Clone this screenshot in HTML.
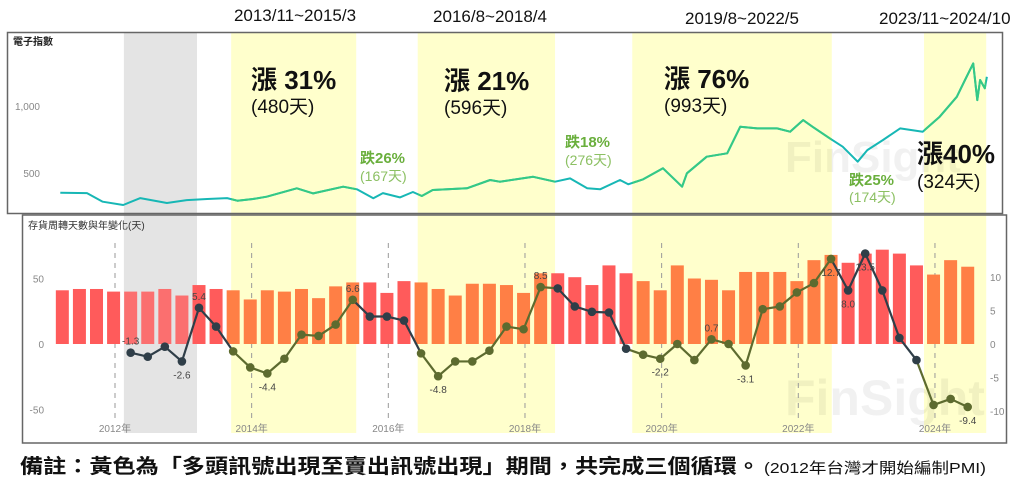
<!DOCTYPE html>
<html><head><meta charset="utf-8">
<style>
html,body{margin:0;padding:0;background:#fff;}
svg{display:block;font-family:"Liberation Sans","Noto Sans CJK TC",sans-serif;}
</style></head>
<body>
<svg id="chart" width="1023" height="478" viewBox="0 0 1023 478" xmlns="http://www.w3.org/2000/svg">
<g id="bands"></g>
<rect x="7.5" y="32.5" width="995" height="181" fill="none" stroke="#666" stroke-width="1.5"/>
<rect x="22.5" y="215" width="984" height="228" fill="none" stroke="#666" stroke-width="1.5"/>
<text x="785" y="172" font-size="44" font-weight="bold" fill="#000" opacity="0.05">FinSight</text>
<text x="785" y="415" font-size="50" font-weight="bold" fill="#000" opacity="0.05">FinSight</text>
<text x="13" y="45" font-size="10" font-weight="bold" fill="#222">電子指數</text>
<text x="40" y="110" font-size="10" fill="#888" text-anchor="end">1,000</text>
<text x="40" y="177" font-size="10" fill="#888" text-anchor="end">500</text>
<g id="indexLine"></g>
<text x="28" y="229" font-size="10" fill="#333">存貨周轉天數與年變化(天)</text>
<g id="grid"></g>
<g id="bars"></g>
<g id="yoy"></g>
<g id="axes"></g>
<g fill="#111">
<text x="295" y="21" font-size="17" text-anchor="middle">2013/11~2015/3</text>
<text x="490" y="22" font-size="17" text-anchor="middle">2016/8~2018/4</text>
<text x="742" y="24" font-size="17" text-anchor="middle">2019/8~2022/5</text>
<text x="879" y="24" font-size="17">2023/11~2024/10</text>
<text x="251" y="89" font-size="26" font-weight="bold">漲 31%</text>
<text x="251" y="113" font-size="19">(480天)</text>
<text x="444" y="90" font-size="26" font-weight="bold">漲 21%</text>
<text x="444" y="114" font-size="19">(596天)</text>
<text x="664" y="88" font-size="26" font-weight="bold">漲 76%</text>
<text x="664" y="112" font-size="19">(993天)</text>
<text x="917" y="163" font-size="26" font-weight="bold">漲40%</text>
<text x="917" y="188" font-size="19">(324天)</text>
<g fill="#6aaf3d">
<text x="360" y="163" font-size="15" font-weight="bold">跌26%</text>
<text x="360" y="181" font-size="14" fill="#8cc063">(167天)</text>
<text x="565" y="147" font-size="15" font-weight="bold">跌18%</text>
<text x="565" y="165" font-size="14" fill="#8cc063">(276天)</text>
<text x="849" y="185" font-size="15" font-weight="bold">跌25%</text>
<text x="849" y="202" font-size="14" fill="#8cc063">(174天)</text>
</g>
</g>
<text x="20" y="473" font-size="20" font-weight="bold" fill="#111" textLength="740" lengthAdjust="spacingAndGlyphs">備註：黃色為「多頭訊號出現至賣出訊號出現」期間，共完成三個循環。</text>
<text x="764" y="473" font-size="15" fill="#111" textLength="222" lengthAdjust="spacingAndGlyphs">(2012年台灣才開始編制PMI)</text>
</svg>
<script>
// ---- data ----
const bandStarts = [2012.13, 2013.70, 2016.43, 2019.57, 2023.84];
const bandEnds   = [2013.20, 2015.53, 2018.44, 2022.49, 2024.75];
const bandKinds  = ["gray", "yellow", "yellow", "yellow", "yellow"];
const indexDates = [2011.20,2011.59,2011.82,2012.12,2012.37,2012.76,2013.05,2013.35,2013.64,2013.79,2014.02,2014.22,2014.66,2014.90,2015.34,2015.54,2015.78,2015.92,2016.17,2016.36,2016.49,2016.65,2017.15,2017.49,2017.63,2018.12,2018.44,2018.66,2018.91,2019.10,2019.39,2019.51,2019.73,2020.02,2020.30,2020.37,2020.66,2020.96,2021.15,2021.40,2021.69,2021.88,2022.07,2022.21,2022.46,2022.65,2022.87,2023.01,2023.24,2023.49,2023.82,2024.07,2024.32,2024.44,2024.56,2024.62,2024.66,2024.73,2024.76];
const indexValues = [353,350,286,261,313,276,298,306,313,293,306,323,386,348,398,378,311,350,318,358,328,373,386,448,435,472,435,460,386,378,448,416,453,535,398,498,622,647,845,833,833,808,895,845,759,696,584,671,746,833,808,920,1069,1194,1318,1044,1194,1132,1218];
const quarterStart = 2011.20;
const inventoryDays = [41,42,42,40,40,40,42,37,45,42,41,34,41,40,42,35,44,47,47,39,48,47,42,37,46,46,45,39,54,54,51,45,60,54,48,41,60,50,49,41,55,55,55,48,64,68,62,69,72,69,60,53,64,59];
const yoyStartIndex = 4;
const yoyChange = [-1.3,-1.9,-0.4,-2.6,5.4,2.6,-1.1,-3.5,-4.4,-2.2,1.4,1.2,2.9,6.6,4.1,4.1,3.5,-1.4,-4.8,-2.6,-2.6,-1.0,2.6,2.2,8.5,8.3,5.6,4.8,4.7,-0.7,-1.6,-2.2,0.0,-2.4,0.7,0.0,-3.2,5.2,5.6,7.7,9.1,12.7,8.0,13.5,8.0,0.9,-2.4,-9.1,-8.2,-9.4];
const yoyLabelText = ["-1.3","-2.6","5.4","-4.4","6.6","-4.8","8.5","-2.2","0.7","-3.1","12.7","8.0","13.5","-9.4"];
const yoyLabelAt   = [4,7,8,12,17,22,28,35,38,40,45,46,47,53];
const yoyLabelPos  = ["up","down","up","down","up","down","up","down","up","down","down","down","down","down"];
const leftTicks = [50,0,-50];
const rightTicks = [10,5,0,-5,-10];
const yearTicks = [2012,2014,2016,2018,2020,2022,2024];

// ---- scales ----
const NS = "http://www.w3.org/2000/svg";
const X = t => 115 + (t - 2012) * 68.33;
const Yi = v => 240 - v * 67 / 500;
const Yl = v => 344 - v * 1.31;
const Yr = v => 344 - v * 6.7;
const qx = i => X(quarterStart + i * 0.25) + 2;
function mk(tag, attrs, parent){const e=document.createElementNS(NS,tag);for(const k in attrs)e.setAttribute(k,attrs[k]);parent.appendChild(e);return e;}
function inYellow(x){for(let b=0;b<bandStarts.length;b++){if(bandKinds[b]==="yellow"&&x>=X(bandStarts[b])&&x<=X(bandEnds[b]))return true;}return false;}

const gB=document.getElementById('bands');
for(let b=0;b<bandStarts.length;b++){
  const x0=X(bandStarts[b]), x1=X(bandEnds[b]);
  const r=mk('rect',{x:x0,y:33,width:x1-x0,height:400,fill:bandKinds[b]==="gray"?"#e4e4e4":"#ffffcc"},gB);
  
  
}

const gI=document.getElementById('indexLine');
let d='';
for(let i=0;i<indexDates.length;i++){d+=(i?'L':'M')+X(indexDates[i]).toFixed(1)+' '+Yi(indexValues[i]).toFixed(1);}
const defs=mk('defs',{},gI);
const cp=mk('clipPath',{id:'ycl'},defs);
for(let b=0;b<bandStarts.length;b++){if(bandKinds[b]==="yellow"){mk('rect',{x:X(bandStarts[b]),y:30,width:X(bandEnds[b])-X(bandStarts[b]),height:190},cp);}}
const p1=mk('path',{d:d,fill:'none',stroke:'#17b7b5','stroke-width':2,'stroke-linejoin':'round'},gI);


const p2=mk('path',{d:d,fill:'none',stroke:'#35c985','stroke-width':2,'stroke-linejoin':'round','clip-path':'url(#ycl)'},gI);



const gG=document.getElementById('grid');
const gA=document.getElementById('axes');
yearTicks.forEach(y=>{
  const l=mk('line',{x1:X(y),x2:X(y),y1:243,y2:418,stroke:'#999','stroke-dasharray':'5,5','stroke-width':1},gG);
  
  
  const t=mk('text',{x:X(y),y:432,'font-size':10,fill:'#888','text-anchor':'middle'},gA);
  t.textContent=y+'年';
  
  
});
leftTicks.forEach(v=>{
  const t=mk('text',{x:44,y:Yl(v)+4,'font-size':10,fill:'#888','text-anchor':'end'},gA);
  t.textContent=v;
  
  
});
rightTicks.forEach(v=>{
  const t=mk('text',{x:990,y:Yr(v)+4,'font-size':10,fill:'#888'},gA);
  t.textContent=v;
  
  
});

const gBar=document.getElementById('bars');
inventoryDays.forEach((v,i)=>{
  const cx=qx(i);
  const r=mk('rect',{x:cx-6.5,y:Yl(v),width:13,height:Yl(0)-Yl(v),fill:inYellow(cx)?'#ff7f45':'#ff5b5b',opacity:(cx>X(bandStarts[0])&&cx<X(bandEnds[0]))?0.85:1},gBar);
  
  
});

const gY=document.getElementById('yoy');
for(let k=0;k<yoyChange.length-1;k++){
  const i=yoyStartIndex+k;
  const x0=qx(i),x1=qx(i+1);
  const l=mk('line',{x1:x0,y1:Yr(yoyChange[k]),x2:x1,y2:Yr(yoyChange[k+1]),stroke:inYellow((x0+x1)/2)?'#5d6b2f':'#2f3e48','stroke-width':2.2},gY);
  
  
}
yoyChange.forEach((v,k)=>{
  const cx=qx(yoyStartIndex+k);
  const c=mk('circle',{cx:cx,cy:Yr(v),r:4.3,fill:inYellow(cx)?'#5d6b2f':'#2f3e48'},gY);
  
  
});
yoyLabelText.forEach((s,j)=>{
  const i=yoyLabelAt[j], v=yoyChange[i-yoyStartIndex];
  const y=yoyLabelPos[j]==='up'?Yr(v)-8:Yr(v)+17;
  const t=mk('text',{x:qx(i),y:y,'font-size':10,fill:'#444','text-anchor':'middle'},gY);
  t.textContent=s;
  
  
});
</script>
</body></html>
